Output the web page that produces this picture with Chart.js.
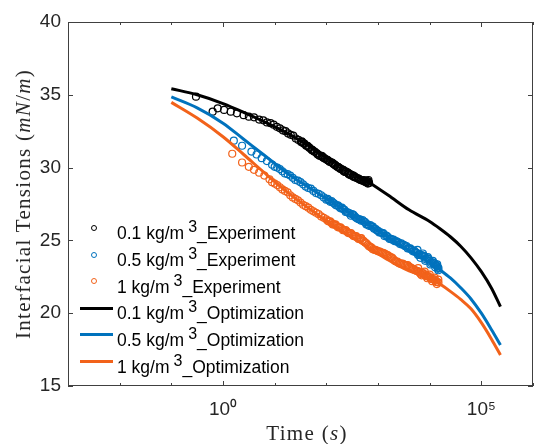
<!DOCTYPE html>
<html><head><meta charset="utf-8">
<script src="https://cdn.jsdelivr.net/npm/chart.js@4.4.1/dist/chart.umd.min.js"></script>
<style>
html,body{margin:0;padding:0;background:#fff;}
#wrap{position:relative;width:545px;height:444px;overflow:hidden;background:#fff;}
#c{position:absolute;left:0;top:0;}
.lg{position:absolute;left:117px;font-family:"Liberation Sans",Arial,sans-serif;font-size:17.5px;color:#000;white-space:nowrap;line-height:20px;}
.lg sup{font-size:16px;position:relative;top:-7px;vertical-align:baseline;margin-left:4px;line-height:0;}
.mkc{position:absolute;width:4px;height:4px;border:1px solid;border-radius:50%;}
.mkl{position:absolute;height:3px;}
.title{position:absolute;font-family:"Liberation Serif","Times New Roman",serif;font-size:21px;color:#262626;white-space:nowrap;letter-spacing:1.3px;line-height:24px;}
</style></head>
<body><div id="wrap"><canvas id="c" width="545" height="444"></canvas>
<div id="legend"></div>
<div class="title" id="xt" style="left:307px;top:433px;transform:translate(-50%,-50%);">Time (<i>s</i>)</div>
<div class="title" id="yt" style="left:23px;top:204px;transform:translate(-50%,-50%) rotate(-90deg);">Interfacial Tensions (<i>mN</i>/<i>m</i>)</div>
</div>
<script>
// ---------- DATA ----------
const seriesNames = ['0.1 kg/m^3', '0.5 kg/m^3', '1 kg/m^3'];
const seriesColors = ['#000000', '#0072BD', '#F2621A'];

// Experiment, 0.1 kg/m3
const expTimeBlack = [0.30,0.63,0.79,1.05,1.41,1.86,2.51,3.16,3.98,5.01,6.03,7.08,8.32,9.55,11.0,12.6,14.5,16.2,18.2,20.4,22.9,25.7,28.8,32.4,36.3,40.7,45.7,51.3,57.5,64.6,72.4,81.3,91.2,102,115,129,145,162,182,204,229,257,288,324,363,407,457,501,550,603,661,
  34,43,54,68,86,108,137,172,217,273,344,433,520,580,640,672,
  33.5,37.6,42.2,47.3,53.1,59.6,66.8,75.0,84.1,94.4,106,119,133,150,168,188,211,237,266,299,335,376,422,473,531,596,638,653];
const expTensionBlack = [34.87,33.84,34.07,33.96,33.84,33.73,33.6,33.5,33.45,33.3,33.25,33.1,33.05,32.95,32.8,32.7,32.55,32.5,32.35,32.25,32.2,32.0,31.9,31.75,31.65,31.5,31.4,31.25,31.1,31.0,30.85,30.8,30.65,30.55,30.4,30.35,30.2,30.05,29.95,29.85,29.7,29.65,29.5,29.4,29.35,29.25,29.15,29.1,29.05,29.0,28.95,
  31.75,31.5,31.2,30.9,30.7,30.5,30.25,30.0,29.75,29.55,29.35,29.2,29.1,29.0,29.05,28.95,
  31.8,31.65,31.5,31.35,31.2,31.1,30.95,30.8,30.75,30.6,30.5,30.4,30.3,30.15,30.05,29.9,29.85,29.7,29.6,29.5,29.45,29.3,29.25,29.15,29.15,29.1,28.9,29.15];

// Experiment, 0.5 kg/m3
const expTimeBlue = [1.62,2.34,3.55,4.47,5.62,7.08,8.91,11.2,14.1,17.8,22.4,28.2,35.5,44.7,56.2,70.8,89.1,112,141,178,224,282,355,447,562,708,891,1122,1413,1778,2239,2818,3548,4467,5623,7079,8913,11220,13183,14791,
  10,12.6,15.8,20,25.1,31.6,39.8,50.1,63.1,79.4,100,126,158,200,251,316,398,501,631,794,1000,1259,1585,1995,2512,3162,3981,5012,6310,7943,10000,12589,
  7499,8414,9441,10593,11885,13804,14125,14454,
  106,119,133,150,168,188,211,237,266,299,335,376,422,473,531,596,668,750,841,944,1059,1189,1334,1496,1679,1884,2113,2371,2661,2985,3350,3758,4217,4732,5309,5957,6683,
  5800,6600,7400,8200,9200,10300,11500,12800,14000,14700];
const expTensionBlue = [31.85,31.5,31.1,30.9,30.65,30.45,30.2,30.0,29.75,29.55,29.3,29.1,28.85,28.6,28.4,28.2,27.95,27.75,27.55,27.3,27.1,26.85,26.65,26.45,26.25,26.05,25.8,25.55,25.35,25.1,24.95,24.8,24.6,24.35,24.15,23.95,23.75,23.5,23.3,23.1,
  30.05,29.9,29.6,29.45,29.15,29.0,28.7,28.55,28.25,28.1,27.8,27.7,27.4,27.25,26.95,26.8,26.5,26.4,26.1,25.95,25.65,25.5,25.2,25.05,24.85,24.7,24.45,24.3,24.0,23.9,23.6,23.4,
  23.95,23.7,23.75,23.45,23.45,23.25,23.2,23.05,
  27.85,27.65,27.6,27.45,27.4,27.2,27.15,26.95,26.9,26.7,26.75,26.55,26.45,26.35,26.3,26.1,26.0,25.95,25.8,25.7,25.55,25.5,25.3,25.3,25.1,25.05,24.95,24.9,24.75,24.7,24.6,24.45,24.45,24.25,24.2,24.0,24.0,
  24.35,23.8,24.1,23.6,23.85,23.35,23.6,23.15,23.35,22.95];

// Experiment, 1 kg/m3
const expTimeOrange = [1.51,2.34,3.16,3.98,5.01,6.31,7.94,10,12.6,15.8,20,25.1,31.6,39.8,50.1,63.1,79.4,100,126,158,200,251,316,398,501,631,794,1000,1259,1585,1995,2512,3162,3981,5012,6310,7943,10000,12589,14791,
  8.91,11.2,14.1,17.8,22.4,28.2,35.5,44.7,56.2,70.8,89.1,112,141,178,224,282,355,447,562,708,891,1122,1413,1778,2239,2818,3548,4467,5623,7079,8913,11220,14125,
  106,119,133,150,168,188,211,237,266,299,335,376,422,473,531,596,668,750,841,944,1059,1189,1334,1496,1679,1884,2113,2371,2661,2985,3350,3758,4217,4732,5309,5957,6683,7499,8414,9441,10593,11885,13335,
  6000,7000,8000,9000,10000,11200,12500,13800,14700];
const expTensionOrange = [30.95,30.35,30.05,29.85,29.65,29.45,29.2,28.9,28.65,28.4,28.1,27.85,27.6,27.35,27.1,26.9,26.65,26.45,26.2,26.0,25.8,25.6,25.4,25.2,25.0,24.7,24.4,24.25,24.15,23.95,23.7,23.45,23.35,23.2,23.0,22.8,22.65,22.45,22.25,22.1,
  29.0,28.8,28.5,28.3,27.95,27.75,27.45,27.25,27.0,26.8,26.55,26.3,26.1,25.9,25.7,25.5,25.3,25.15,24.85,24.55,24.35,24.2,24.05,23.85,23.55,23.4,23.3,23.1,22.9,22.75,22.55,22.35,22.15,
  26.35,26.3,26.1,26.1,25.9,25.9,25.7,25.7,25.5,25.5,25.3,25.3,25.1,25.15,24.95,24.8,24.6,24.5,24.35,24.3,24.25,24.15,24.1,24.0,23.85,23.8,23.6,23.55,23.4,23.4,23.3,23.3,23.15,23.05,22.95,22.9,22.7,22.75,22.55,22.55,22.35,22.35,22.15,
  23.1,22.6,22.85,22.4,22.65,22.2,22.45,22.0,22.3];

// Optimization curves
const fitTime = [0.1,0.316,1,2.51,6.31,17.8,50.1,126,316,631,1585,3981,10000,15849,25119,39811,63096,100000,158489,234423];
const fitTensionBlack  = [35.42,35.0,34.4,33.8,33.15,32.35,31.4,30.5,29.7,29.05,28.1,27.1,26.3,25.8,25.25,24.6,23.8,22.85,21.7,20.45];
const fitTensionBlue   = [34.85,34.1,33.05,31.95,30.85,29.6,28.55,27.65,26.75,26.1,25.2,24.3,23.5,22.98,22.42,21.75,20.98,20.0,18.85,17.82];
const fitTensionOrange = [34.48,33.4,32.12,30.9,29.65,28.3,27.1,26.1,25.2,24.55,23.65,22.9,22.45,22.0,21.5,20.95,20.3,19.35,18.2,17.13];

// Axes
const xTickValues = [1e-3,1e-2,1e-1,1,10,100,1000,1e4,1e5,1e6];
const xTickLabels = ['','','','10⁰','','','','','10⁵',''];
const xMajorTicks = [1,1e5];
const yTickValues = [15,20,25,30,35,40];

// ---------- CHART ----------
const pts = (xs, ys) => xs.map((t, i) => ({x: t, y: ys[i]}));
const expSets = [[expTimeBlack, expTensionBlack],[expTimeBlue, expTensionBlue],[expTimeOrange, expTensionOrange]];
const fitSets = [fitTensionBlack, fitTensionBlue, fitTensionOrange];

const datasets = [];
expSets.forEach((s, i) => datasets.push({
  label: seriesNames[i] + '_Experiment', data: pts(s[0], s[1]),
  showLine: false, pointStyle: 'circle', pointRadius: 3.5, pointBorderWidth: 1.2,
  borderColor: seriesColors[i], backgroundColor: 'rgba(0,0,0,0)', order: 2
}));
fitSets.forEach((ys, i) => datasets.push({
  label: seriesNames[i] + '_Optimization', data: pts(fitTime, ys),
  showLine: true, pointRadius: 0, borderWidth: 3, tension: 0.4, cubicInterpolationMode: 'monotone',
  borderColor: seriesColors[i], backgroundColor: seriesColors[i], order: 1
}));

const boxPlugin = {
  id: 'matlabBox',
  afterDraw(chart) {
    const {ctx, chartArea: {left, right, top, bottom}, scales: {x, y}} = chart;
    ctx.save();
    ctx.strokeStyle = '#404040';
    ctx.lineWidth = 1;
    ctx.strokeRect(left + 0.5, top + 0.5, right - left - 1, bottom - top - 1);
    ctx.beginPath();
    xTickValues.forEach(v => {
      const px = Math.round(x.getPixelForValue(v)) + 0.5;
      const len = xMajorTicks.includes(v) ? 5 : 3;
      ctx.moveTo(px, bottom); ctx.lineTo(px, bottom - len);
      ctx.moveTo(px, top); ctx.lineTo(px, top + len);
    });
    yTickValues.forEach(v => {
      const py = Math.round(y.getPixelForValue(v)) + 0.5;
      ctx.moveTo(left, py); ctx.lineTo(left + 5, py);
      ctx.moveTo(right, py); ctx.lineTo(right - 5, py);
    });
    ctx.stroke();
    ctx.restore();
  }
};

const tickFont = {family: '"Liberation Sans", Arial, sans-serif', size: 19};
new Chart(document.getElementById('c'), {
  type: 'scatter',
  data: {datasets},
  options: {
    responsive: false, animation: false, devicePixelRatio: 1, events: [],
    layout: {padding: {top: 22, right: 0, bottom: 0, left: 0}},
    plugins: {legend: {display: false}, tooltip: {enabled: false}},
    scales: {
      x: {
        type: 'logarithmic', min: 1e-3, max: 1e6,
        afterBuildTicks: s => { s.ticks = xTickValues.map(v => ({value: v})); },
        afterFit: s => { s.height = 58; },
        ticks: {callback: (v, i) => xTickLabels[i], autoSkip: false, maxRotation: 0, minRotation: 0,
                font: tickFont, color: '#262626', padding: 12},
        grid: {display: false, drawTicks: false}, border: {display: false}
      },
      y: {
        min: 15, max: 40,
        afterBuildTicks: s => { s.ticks = yTickValues.map(v => ({value: v})); },
        afterFit: s => { s.width = 68; },
        ticks: {font: tickFont, color: '#262626', padding: 7},
        grid: {display: false, drawTicks: false}, border: {display: false}
      }
    }
  },
  plugins: [boxPlugin]
});

// ---------- LEGEND (inside axes) ----------
const legendEl = document.getElementById('legend');
const legendItems = [];
seriesNames.forEach((n, i) => legendItems.push({text: n + '_Experiment', color: seriesColors[i], kind: 'marker'}));
seriesNames.forEach((n, i) => legendItems.push({text: n + '_Optimization', color: seriesColors[i], kind: 'line'}));
legendItems.forEach((it, k) => {
  const base = 239 + k * 26.7;
  const row = document.createElement('div');
  row.className = 'lg';
  row.style.top = (base - 15.9) + 'px';
  row.innerHTML = it.text.replace('^3', '<sup>3</sup>');
  legendEl.appendChild(row);
  const mk = document.createElement('div');
  if (it.kind === 'marker') {
    mk.className = 'mkc';
    mk.style.left = (94.3 - 3) + 'px';
    mk.style.top = (base - 11 - 3) + 'px';
    mk.style.borderColor = it.color;
  } else {
    mk.className = 'mkl';
    mk.style.left = '80px';
    mk.style.width = '33px';
    mk.style.top = (base - 11 - 1.5) + 'px';
    mk.style.background = it.color;
  }
  legendEl.appendChild(mk);
});
</script>
</body></html>
